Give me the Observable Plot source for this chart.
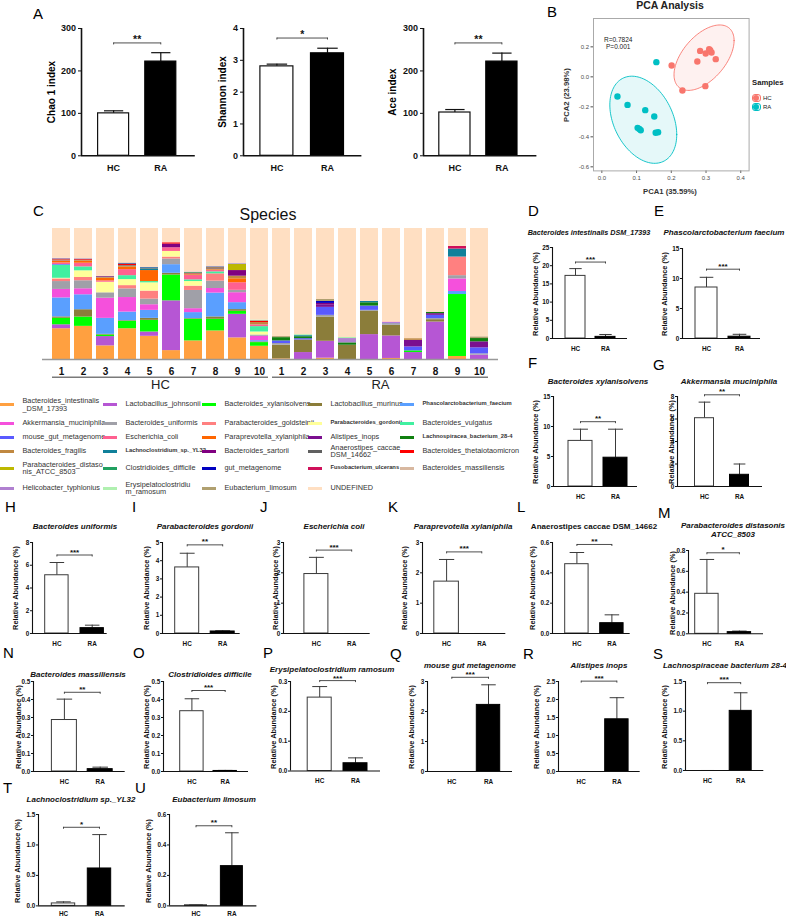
<!DOCTYPE html>
<html><head><meta charset="utf-8">
<script src="https://cdn.jsdelivr.net/npm/d3@7"></script>
<script src="https://cdn.jsdelivr.net/npm/@observablehq/plot@0.6"></script>
<style>
body{margin:0;background:#fff;}
#fig{position:relative;width:786px;height:917px;overflow:hidden;background:#fff;}
</style></head><body><div id="fig"></div>
<script>
// ---------------- DATA ----------------
const groups = ["HC", "RA"];

// Panel A: alpha diversity
const alphaMetrics = ["Chao 1 index", "Shannon index", "Ace index"];
const alphaMean = [[100, 222], [2.81, 3.22], [102, 222]];
const alphaSem = [[6, 21], [0.07, 0.16], [7, 20]];
const alphaSig = ["**", "*", "**"];
const alphaSigY = [266, 3.70, 266];
const alphaTicks = [[0, 100, 200, 300], [0, 1, 2, 3, 4], [0, 100, 200, 300]];

// Panel B: PCA
const pcaHCx = [0.283, 0.299, 0.309, 0.316, 0.312, 0.328, 0.275, 0.201, 0.232, 0.298];
const pcaHCy = [0.173, 0.156, 0.184, 0.162, 0.178, 0.118, 0.102, 0.076, -0.091, -0.062];
const pcaRAx = [0.157, 0.045, 0.074, 0.125, 0.151, 0.103, 0.108, 0.112, 0.155, 0.162];
const pcaRAy = [0.098, -0.131, -0.187, -0.222, -0.264, -0.340, -0.347, -0.356, -0.373, -0.369];
const pcaXTicks = [0, 0.1, 0.2, 0.3, 0.4];
const pcaYTicks = [-0.6, -0.4, -0.2, 0, 0.2];
const pcaStats = ["R=0.7824", "P=0.001"];
const groupColors = ["#F8766D", "#00BFC4"];

// Panel C: species composition
const legendLabels = ["Bacteroides_intestinalis\n_DSM_17393", "Lactobacillus_johnsonii", "Bacteroides_xylanisolvens", "Lactobacillus_murinus", "Phascolarctobacterium_faecium",
  "Akkermansia_muciniphila", "Bacteroides_uniformis", "Parabacteroides_goldsteinii", "Parabacteroides_gordonii", "Bacteroides_vulgatus",
  "mouse_gut_metagenome", "Escherichia_coli", "Paraprevotella_xylaniphila", "Alistipes_inops", "Lachnospiracea_bacterium_28-4",
  "Bacteroides_fragilis", "Lachnoclostridium_sp._YL32", "Bacteroides_sartorii", "Anaerostipes_caccae_\nDSM_14662", "Bacteroides_thetaiotaomicron",
  "Parabacteroides_distaso\nnis_ATCC_8503", "Clostridioides_difficile", "gut_metagenome", "Fusobacterium_ulcerans", "Bacteroides_massiliensis",
  "Helicobacter_typhlonius", "Erysipelatoclostridiu\nm_ramosum", "Eubacterium_limosum", "UNDEFINED"];
const species = legendLabels.map(s => s.replace("\n", ""));
const speciesColors = ["#FFA040", "#B656D4", "#00FF00", "#8B7D3A", "#5A9FFF",
  "#F550DC", "#A0A0A8", "#FF8080", "#FFFF99", "#40F0A0",
  "#5A5AFF", "#FF6090", "#FF6600", "#7B0F8F", "#108010",
  "#C08840", "#10809A", "#800080", "#606060", "#FF0000",
  "#BDB800", "#20A060", "#0000C0", "#D0105A", "#D8B8A0",
  "#B080D0", "#B0F0B0", "#B0A070", "#FFDFC2"];
const smallBoldLegend = ["Phascolarctobacterium_faecium", "Parabacteroides_gordonii", "Lachnospiracea_bacterium_28-4", "Lachnoclostridium_sp._YL32", "Fusobacterium_ulcerans"];
const samples = ["HC1","HC2","HC3","HC4","HC5","HC6","HC7","HC8","HC9","HC10","RA1","RA2","RA3","RA4","RA5","RA6","RA7","RA8","RA9","RA10"];
const abundance = [
  [23.5,25.3,10.4,23.5,17.7,6.8,14.2,21.8,16.5,10.1, 0.5,0,1,0,0,0.8,0,0,2.3,0],
  [3,0,7.1,0,3.3,38,0,0,18,0, 0,5.3,12.9,0,19,17.2,5.3,28.6,0,3.3],
  [5,7.1,1.2,5.6,8.9,19.7,16.5,8.9,2.3,2.8, 0,0,0,0,0,0,1.3,0,47.3,0],
  [1,5.6,0.5,0.5,1.5,1.3,0.5,1.8,1.3,0.5, 10.4,9.6,18.5,10.9,17.7,8.1,0,1.8,0,0],
  [14.5,11.4,12.2,6.6,6.1,6.6,4.6,18.2,5.3,1.0, 0,0,0,0,0,0,0,0,2.3,0],
  [6.5,4.6,15.4,11.1,4.3,0,3,3.5,7.6,3.3, 0,0,0,0,0,0,0,0,9.6,0],
  [6,6.1,4.1,6.6,4.3,4.3,13.9,5.6,1.8,1.0, 1.3,0,1.3,0,0.8,1.3,0,0.8,2.5,1],
  [2,2.5,0,2.5,6.1,1.5,3.3,5.6,0,0, 0,0,0,0,0,0,0,0,14.2,0],
  [0.5,5.1,8.1,4.6,6.3,4.3,3.5,0,0,2.3, 0,0,0,0,0,0,0,0,0,0],
  [10,3.0,0,3.0,1,0,1.3,1.5,0,4.1, 0,0,0,0,0,0,0,0,0,0],
  [0.5,0,0,0,0,0,0,0,0,0, 2,1,6.1,0,3.3,0.6,3,2.5,0,4.6],
  [1.2,2.8,1,4.6,0,2.8,3.3,1,5.8,1.3, 0,0,0,0,0,0.6,0,0,0,0],
  [1.2,1.5,2,1.8,8.4,0,0.5,0.5,3,0, 0,0,0,0,0,0,0,0,0,0],
  [0.3,0,0,0,0,0,0,0,0,0, 0,0,2,0,0,0,5,1.3,0,4.6],
  [0,0,0,0,0,0,0,0,0,0, 2.5,1.5,0,1.8,2.5,0,0,1,0,2.5],
  [0.5,0.5,0.5,0.8,0,0,0.5,0.5,2,1.8, 0,0,0,0,0,0,1.3,0,0,0],
  [0,0,0,0,1,0,0,0,0,0, 0,0.8,0,0,1,0,0,0,6.1,0],
  [0,0,0,0,0,2.8,0,0,4.3,0, 0,0,1,0,0,0,0,0,0,0],
  [0.3,0.3,0.3,0.5,0.5,0,0.3,0.5,0,0, 0,0,0,0,0,0,0,0,0,0],
  [0.5,0.5,0.3,1,0,1,0.5,0.5,0,1.0, 0,0,0,0,0,0,0,0,0,0],
  [0,0,0,0,0,0,0,0,4.6,0, 0,0,0,0,0,0,0,0,0,0],
  [0,0,0,0.3,0.5,0,0.5,0.5,0,0.3, 0,0,0,0,0,0,0,0,0,0],
  [0.3,0.3,0.3,0.3,0.3,0,0.2,0.3,0.4,0, 0,0,1.5,0,0,0,0,0,0,0],
  [0,0,0,0,0,0,0,0,0,0, 0,0,0,0,0,0,0,0,2,0],
  [0.5,0.3,0,0.5,0,0,0,0.3,0,0.3, 0,0,0,0,0,0,0,0,0,0],
  [0,0,0,0,0,0,0,0,0,0, 0,0,0,3.3,0,0,0,0,0,0],
  [0,0,0,0,0,0,0,0,0,0.3, 0,0.8,0,0.8,0,0,0,0,0,0],
  [0,0,0,0,0,0,0,0,0,0, 0.8,0,1.5,0,0,0,0,0,0,1.3],
  [22.7,23.1,36.6,26.2,29.8,10.9,33.4,29,27.1,69.9, 82.5,81,54.2,83.2,55.7,71.4,84.1,64,13.7,82.7]
];

// Panels D-U: differential taxa
const taxaLetters = ["D","E","F","G","H","I","J","K","L","M","N","O","P","Q","R","S","T","U"];
const taxaTitles = ["Bacteroides intestinalis DSM_17393", "Phascolarctobacterium faecium", "Bacteroides xylanisolvens", "Akkermansia muciniphila",
  "Bacteroides uniformis", "Parabacteroides gordonii", "Escherichia coli", "Paraprevotella xylaniphila", "Anaerostipes caccae DSM_14662",
  "Parabacteroides distasonis\nATCC_8503", "Bacteroides massiliensis", "Clostridioides difficile", "Erysipelatoclostridium ramosum",
  "mouse gut metagenome", "Alistipes inops", "Lachnospiraceae bacterium 28-4", "Lachnoclostridium sp._YL32", "Eubacterium limosum"];
const hcMean = [17.2, 8.5, 7.6, 6.07, 5.12, 3.63, 1.96, 1.71, 0.457, 0.384, 0.286, 0.335, 0.246, 0, 0, 0, 0.04, 0.004];
const hcSem  = [2.0, 1.7, 1.95, 1.43, 1.12, 0.78, 0.55, 0.73, 0.077, 0.33, 0.116, 0.069, 0.037, 0, 0, 0, 0.026, 0.004];
const raMean = [0.45, 0.3, 4.8, 1.04, 0.47, 0.11, 0, 0, 0.068, 0.016, 0.013, 0.003, 0.026, 2.22, 1.45, 1.005, 0.614, 0.261];
const raSem  = [0.65, 0.4, 4.75, 0.96, 0.26, 0.04, 0, 0, 0.055, 0.01, 0.011, 0.003, 0.018, 0.67, 0.6, 0.305, 0.556, 0.219];
const taxaSig = ["***","***","**","**","***","**","***","***","**","*","**","***","***","***","***","***","*","**"];
const taxaSigY = [21.0, 11.55, 10.8, 8.15, 6.9, 4.87, 2.75, 2.69, 0.587, 0.778, 0.44, 0.45, 0.303, 3.14, 2.51, 1.48, 1.29, 0.526];
const taxaTickMax = [25, 15, 15, 8, 8, 5, 3, 3, 0.6, 0.8, 0.5, 0.5, 0.3, 3, 2.5, 1.5, 1.5, 0.6];
const taxaTickStep = [5, 5, 5, 2, 2, 1, 1, 1, 0.2, 0.2, 0.1, 0.1, 0.1, 1, 0.5, 0.5, 0.5, 0.2];
const yAxisTitle = "Relative Abundance (%)";

// ---------------- LAYOUT (pixels) ----------------
const FONT = '"Liberation Sans", Arial, Helvetica, sans-serif';
const fig = document.getElementById("fig");
// [axisX, rightX, topY, zeroY, hcCenter, raCenter, barHalfWidth]
const alphaGeom = [[80.7, 194.5, 27.7, 155, 112.8, 160, 15.5], [243.3, 361.7, 27.7, 155, 276.7, 327.3, 16.5], [423.3, 536.7, 27.7, 155, 454.7, 501.7, 15.6]];
const alphaLabelX = [51.7, 222.7, 393.3];
const taxaGeom = [
  [552, 627, 247.3, 338.3, 575, 605, 10], [682, 760, 248.3, 338.3, 706, 739, 11],
  [553, 637, 396, 486, 580, 615, 12], [677, 762, 396, 486, 704, 739, 9.5],
  [32.3, 107, 541.7, 632.7, 56.7, 92, 11.7], [162.3, 240, 541.7, 632.7, 187, 222.5, 12],
  [283.3, 370, 541.7, 632.7, 316.2, 351.5, 12], [421.7, 505, 541.7, 632.7, 445.8, 481, 12.3],
  [552.3, 630, 541.7, 632.7, 576.7, 611.7, 11.7], [688.3, 763.3, 550, 633.3, 706.7, 739.2, 11.7],
  [33.3, 125, 681, 771, 64.2, 100, 12.5], [163.3, 248.3, 681, 771, 191.7, 225, 11.7],
  [290, 380, 681, 770.5, 319.2, 355, 12], [426.7, 511.7, 681, 771, 451, 487.7, 11.7],
  [558.3, 640, 681, 771, 581, 616.7, 11.7], [685, 763.3, 681, 770, 707, 740.2, 11],
  [38.3, 125, 814.3, 905.7, 63.3, 99.3, 11.7], [169.3, 256.7, 814.3, 905.7, 195.8, 231.7, 11]];
const taxaLetterPos = [[528,210],[654,210],[528,362],[653,364],[5,506],[132,506],[260,506],[388,506],[517,506],[658,512],
  [3,652],[133,652],[263,652],[390,653],[523,653],[653,653],[3,787],[135,787]];
const taxaTitlePos = [[589,233],[724,233],[598,382],[729,382],[75,527],[205,527],[334,527],[463,527],[594,527],[733,531],
  [78,675],[210,675],[332,669.5],[470,666],[599,666],[725,666],[81,800],[214,800]];
const taxaYLabelX = [536,665,536,672,16,147,276,405,533,673,19,147,274,412,537,665,18,149];
const taxaXPad = [7.5,7.5,7.5,7.5,7.5,7.5,7.5,7.5,7.5,7.5,7.5,7.5,7.5,7.5,7.5,7.5,6,6];

// ---------------- HELPERS ----------------
function txt(s, x, y, o = {}) {
  const d = document.createElement("div");
  d.textContent = s;
  const start = o.anchor === "start";
  Object.assign(d.style, {
    position: "absolute", left: x + "px", top: y + "px", whiteSpace: "pre",
    fontFamily: FONT, fontSize: (o.size || 8) + "px", fontWeight: o.weight || "normal",
    fontStyle: o.italic ? "italic" : "normal", color: o.color || "#000",
    lineHeight: o.lh || "1", textAlign: start ? "left" : "center",
    transform: `translate(${start ? "0" : "-50%"}, -50%)` + (o.rotate ? ` rotate(${o.rotate}deg)` : "")
  });
  fig.appendChild(d);
  return d;
}
function place(el, left, top) {
  el.style.position = "absolute"; el.style.left = left + "px"; el.style.top = top + "px";
  fig.appendChild(el);
}

function barPanel(o) {
  const [aX, rX, top, bottom, cH, cR, hw] = o.geom;
  const step = cR - cH;
  const lo = 1 - (cH - aX) / step, hi = 2 + (rX - cR) / step;
  const bw = hw / step, cap = bw * 0.62;
  const mL = 36, mR = 4, mT = 18, mB = 22;
  const rows = groups.map((g, i) => ({g, x: i + 1, m: o.mean[i], e: o.mean[i] + o.sem[i]}));
  const ymax = o.ticks[o.ticks.length - 1];
  const svg = Plot.plot({
    width: rX - aX + mL + mR, height: bottom - top + mT + mB,
    marginLeft: mL, marginRight: mR, marginTop: mT, marginBottom: mB,
    style: {fontFamily: FONT, fontSize: o.font + "px", fontWeight: "bold", background: "transparent", overflow: "visible", color: "#111"},
    x: {domain: [lo, hi], ticks: [1, 2], tickFormat: i => groups[i - 1], tickSize: 0, tickPadding: o.xPad, label: null},
    y: {domain: [0, ymax], ticks: o.ticks, tickFormat: o.fmt, tickSize: o.tickLen, tickPadding: o.tickPad, label: null},
    marks: [
      Plot.ruleX(rows, {x: "x", y1: "m", y2: "e", stroke: o.stroke, strokeWidth: o.sw}),
      Plot.link(rows, {x1: d => d.x - cap, x2: d => d.x + cap, y1: "e", y2: "e", stroke: o.stroke, strokeWidth: o.sw}),
      Plot.rectY(rows.filter(d => d.g === "HC"), {x1: d => d.x - bw, x2: d => d.x + bw, y1: 0, y2: "m", fill: "#fff", stroke: o.stroke, strokeWidth: o.sw}),
      Plot.rectY(rows.filter(d => d.g === "RA"), {x1: d => d.x - bw, x2: d => d.x + bw, y1: 0, y2: "m", fill: "#000", stroke: "#000", strokeWidth: o.sw}),
      Plot.ruleY([0], {stroke: "#111", strokeWidth: o.axisW}),
      Plot.ruleX([lo], {y1: 0, y2: ymax, stroke: "#111", strokeWidth: o.axisW}),
      Plot.link([o.sig], {x1: () => 1, x2: () => 2, y1: () => o.sigY, y2: () => o.sigY, stroke: "#222", strokeWidth: 0.8}),
      Plot.ruleX([1, 2], {y1: () => o.sigY, y2: () => o.sigY, insetBottom: -2, stroke: "#222", strokeWidth: 0.8}),
      Plot.text([o.sig], {x: () => 1.5, y: () => o.sigY, text: d => d, dy: o.sigDy, fontSize: o.sigFont, fontWeight: "bold", fill: "#111"})
    ]
  });
  place(svg, aX - mL, top - mT);
}

// ---------------- PANEL A ----------------
txt("A", 33, 12.5, {size: 15, anchor: "start"});
alphaMetrics.forEach((name, i) => {
  barPanel({geom: alphaGeom[i], mean: alphaMean[i], sem: alphaSem[i], ticks: alphaTicks[i], fmt: d => String(d),
    font: 9, xPad: 8.5, tickLen: 3, tickPad: 2.5, stroke: "#111", sw: 1.2, axisW: 1.6,
    sig: alphaSig[i], sigY: alphaSigY[i], sigFont: 10.5, sigDy: -3.5});
  txt(name, alphaLabelX[i], 91.5, {size: 10, weight: "bold", rotate: -90});
});

// ---------------- PANEL B ----------------
txt("B", 547, 11, {size: 15, anchor: "start"});
txt("PCA Analysis", 670, 5, {size: 10.5, weight: "bold", color: "#222"});
function covTrob(xs, ys, nu = 5) {
  const n = xs.length, p = 2;
  let w = xs.map(() => 1);
  let lx = d3.mean(xs), ly = d3.mean(ys);
  let X = [];
  for (let it = 0; it < 25; it++) {
    const w0 = w.slice();
    X = xs.map((x, i) => [x - lx, ys[i] - ly]);
    const sw = d3.sum(w);
    let a = 0, b = 0, c = 0;
    X.forEach((v, i) => { const f = w[i] / sw; a += f * v[0] * v[0]; b += f * v[0] * v[1]; c += f * v[1] * v[1]; });
    const det = a * c - b * b;
    const Q = X.map(v => (c * v[0] * v[0] - 2 * b * v[0] * v[1] + a * v[1] * v[1]) / det);
    w = Q.map(q => (nu + p) / (nu + q));
    const sw2 = d3.sum(w);
    lx = d3.sum(xs.map((x, i) => w[i] * x)) / sw2;
    ly = d3.sum(ys.map((y, i) => w[i] * y)) / sw2;
    if (w.every((v, i) => Math.abs(v - w0[i]) < 0.01)) break;
  }
  let a = 0, b = 0, c = 0;
  X.forEach((v, i) => { a += w[i] * v[0] * v[0]; b += w[i] * v[0] * v[1]; c += w[i] * v[1] * v[1]; });
  return {cx: lx, cy: ly, a: a / n, b: b / n, c: c / n};
}
function ellipsePts(xs, ys) {
  const s = covTrob(xs, ys);
  const radius = Math.sqrt(2 * 4.2565); // sqrt(2 * qf(0.95, 2, n-1)), n = 10
  const r11 = Math.sqrt(s.a), r12 = s.b / r11, r22 = Math.sqrt(s.c - r12 * r12);
  return d3.range(0, 121).map(k => {
    const t = 2 * Math.PI * k / 120, u = Math.cos(t), v = Math.sin(t);
    return {x: s.cx + radius * u * r11, y: s.cy + radius * (u * r12 + v * r22)};
  });
}
const pcaPts = [
  ...pcaHCx.map((x, i) => ({g: "HC", x, y: pcaHCy[i]})),
  ...pcaRAx.map((x, i) => ({g: "RA", x, y: pcaRAy[i]}))];
const ellHC = ellipsePts(pcaHCx, pcaHCy), ellRA = ellipsePts(pcaRAx, pcaRAy);
{
  const mL = 30, mR = 4, mT = 4, mB = 14;
  const svg = Plot.plot({
    width: 155.6 + mL + mR, height: 152.4 + mT + mB,
    marginLeft: mL, marginRight: mR, marginTop: mT, marginBottom: mB,
    style: {fontFamily: FONT, fontSize: "6px", color: "#4d4d4d", background: "transparent", overflow: "visible"},
    x: {domain: [-0.024, 0.424], ticks: pcaXTicks, tickFormat: d => d.toFixed(1), tickSize: 2.5, tickPadding: 2, label: null},
    y: {domain: [-0.627, 0.389], ticks: pcaYTicks, tickFormat: d => d.toFixed(1), tickSize: 2.5, tickPadding: 2, label: null},
    marks: [
      Plot.line(ellHC, {x: "x", y: "y", curve: "linear-closed", fill: groupColors[0], fillOpacity: 0.1, stroke: groupColors[0], strokeWidth: 0.9}),
      Plot.line(ellRA, {x: "x", y: "y", curve: "linear-closed", fill: groupColors[1], fillOpacity: 0.1, stroke: groupColors[1], strokeWidth: 0.9}),
      Plot.dot(pcaPts, {x: "x", y: "y", r: 3.2, fill: d => d.g === "HC" ? groupColors[0] : groupColors[1], stroke: "none"}),
      Plot.frame({stroke: "#aaa", strokeWidth: 1})
    ]
  });
  place(svg, 592.7 - mL, 18.3 - mT);
}
txt(pcaStats[0], 604, 39.7, {size: 6.5, anchor: "start", color: "#222"});
txt(pcaStats[1], 606, 46.7, {size: 6.5, anchor: "start", color: "#222"});
txt("PCA1 (35.59%)", 670, 192.3, {size: 7.7, weight: "bold", color: "#333"});
txt("PCA2 (23.98%)", 566.7, 95, {size: 7.7, weight: "bold", color: "#333", rotate: -90});
txt("Samples", 752, 83, {size: 7.7, weight: "bold", anchor: "start", color: "#222"});
groups.forEach((g, i) => {
  const y = 98.3 + i * 9;
  const box = document.createElement("div");
  Object.assign(box.style, {position: "absolute", left: "751.5px", top: (y - 4) + "px", width: "9px", height: "8px",
    border: "1px solid " + groupColors[i], borderRadius: "3px", background: groupColors[i] + "22", boxSizing: "border-box"});
  fig.appendChild(box);
  const dot = document.createElement("div");
  Object.assign(dot.style, {position: "absolute", left: "753px", top: (y - 3) + "px", width: "6px", height: "6px",
    borderRadius: "50%", background: groupColors[i]});
  fig.appendChild(dot);
  txt(g, 763, y, {size: 6, anchor: "start", color: "#222"});
});

// ---------------- PANEL C ----------------
txt("C", 33, 210, {size: 15, anchor: "start"});
txt("Species", 268, 215, {size: 16, color: "#111"});
const stackData = [];
samples.forEach((s, j) => species.forEach((sp, i) => stackData.push({sample: s, species: sp, value: abundance[i][j]})));
const groupOf = s => s.replace(/\d+$/, "");
const sampleRows = samples.map(s => ({sample: s, group: groupOf(s)}));
const isFirst = d => sampleRows.filter(r => r.group === d.group)[0].sample === d.sample;
const isLast = d => { const a = sampleRows.filter(r => r.group === d.group); return a[a.length - 1].sample === d.sample; };
const lineOpts = (l, r) => ({x: "sample", y1: () => 0, y2: () => 0, insetTop: 17.5, insetBottom: -19, insetLeft: l, insetRight: r, fill: "#7a7a7a"});
{
  const svg = Plot.plot({
    width: 530, height: 194, marginLeft: 42, marginRight: 32, marginTop: 28, marginBottom: 35,
    style: {fontFamily: FONT, fontSize: "10px", fontWeight: "bold", background: "transparent", overflow: "visible", color: "#111"},
    x: {domain: samples, paddingInner: 0.182, paddingOuter: 0.4545, tickSize: 0, tickPadding: 8, tickFormat: s => s.replace(/^\D+/, ""), label: null},
    y: {domain: [0, 100], axis: null},
    color: {domain: species, range: speciesColors},
    marks: [
      Plot.barY(stackData, {x: "sample", y: "value", fill: "species"}),
      Plot.ruleY([0], {stroke: "#999", strokeWidth: 1.6}),
      Plot.barY(sampleRows.filter(d => !isFirst(d) && !isLast(d)), lineOpts(-2, -2)),
      Plot.barY(sampleRows.filter(d => isFirst(d)), lineOpts(0, -2)),
      Plot.barY(sampleRows.filter(d => isLast(d)), lineOpts(-2, 0)),
      Plot.text(groups, {x: g => sampleRows.filter(r => r.group === g)[4].sample, y: () => 0, text: d => d, dx: 11, dy: 25, fontSize: 13, fontWeight: "normal", fill: "#222"})
    ]
  });
  place(svg, 0, 200);
}
// legend
const legRowY = [404.3, 423, 437, 451, 468, 488];
const legColX = [0, 103, 202, 308, 400];
legendLabels.forEach((lab, i) => {
  const r = Math.floor(i / 5), c = i % 5;
  const sw = document.createElement("div");
  Object.assign(sw.style, {position: "absolute", left: legColX[c] + "px", top: (legRowY[r] - 1.5) + "px", width: "14px", height: "3px", background: speciesColors[i]});
  fig.appendChild(sw);
  const sb = smallBoldLegend.includes(species[i]);
  txt(lab, legColX[c] + 22.5, legRowY[r], {size: sb ? 5.8 : 7.3, weight: sb ? "bold" : "normal", anchor: "start", color: "#333", lh: "1.0"});
});

// ---------------- PANELS D-U ----------------
taxaTitles.forEach((title, i) => {
  const max = taxaTickMax[i], st = taxaTickStep[i];
  const ticks = d3.range(0, max + st / 2, st);
  barPanel({geom: taxaGeom[i], mean: [hcMean[i], raMean[i]], sem: [hcSem[i], raSem[i]], ticks,
    fmt: st < 1 ? (d => d.toFixed(1)) : (d => String(Math.round(d))),
    font: 6.4, xPad: taxaXPad[i], tickLen: 2, tickPad: 1.2, stroke: "#3a3a3a", sw: 1, axisW: 1.1,
    sig: taxaSig[i], sigY: taxaSigY[i], sigFont: 8, sigDy: taxaLetters[i] === "P" ? -2.2 : -3});
  const [lx, ly] = taxaLetterPos[i];
  txt(taxaLetters[i], lx, ly, {size: 15, anchor: "start"});
  const [tx, ty] = taxaTitlePos[i];
  const isL = taxaLetters[i] === "L";
  txt(title, tx, ty, {size: taxaLetters[i] === "D" ? 7.2 : 8, weight: "bold", italic: !isL, color: "#111", lh: "1.1"});
  const g = taxaGeom[i];
  txt(yAxisTitle, taxaYLabelX[i], (g[2] + g[3]) / 2 + 1, {size: 7.4, weight: "bold", rotate: -90, color: "#111"});
});
</script></body></html>
